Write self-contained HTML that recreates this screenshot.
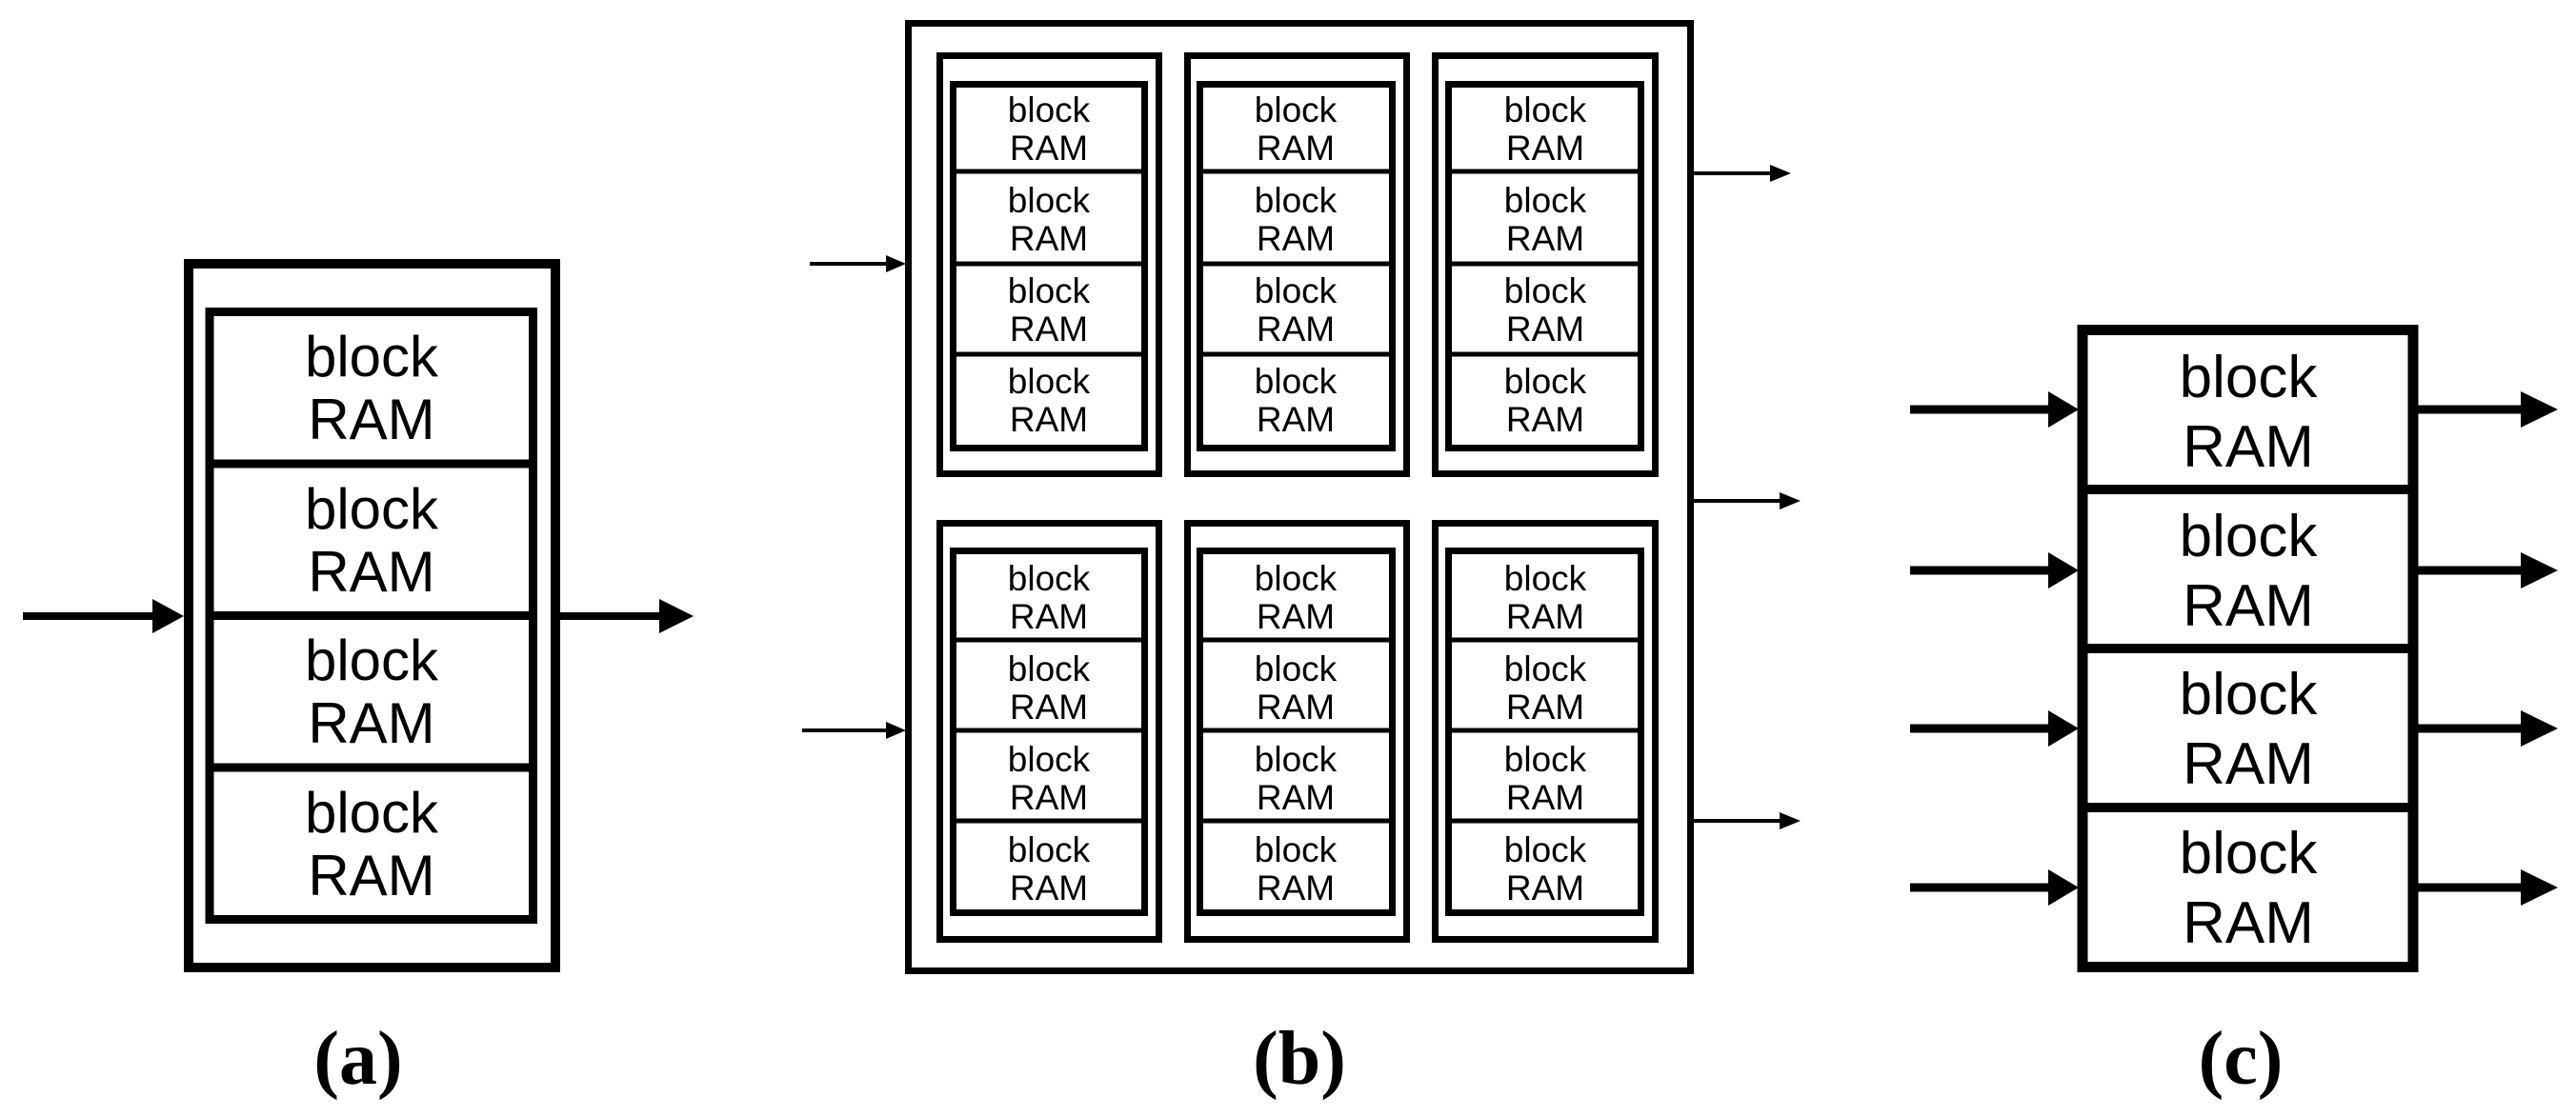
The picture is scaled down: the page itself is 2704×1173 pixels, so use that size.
<!DOCTYPE html>
<html><head><meta charset="utf-8"><style>
html,body{margin:0;padding:0;background:#fff;}
svg{display:block;}
.t{font-family:"Liberation Sans",sans-serif;text-anchor:middle;fill:#000;}
.l{font-family:"Liberation Serif",serif;font-weight:bold;text-anchor:middle;fill:#000;font-size:80px;}
</style></head><body>
<svg width="2704" height="1173" viewBox="0 0 2704 1173" xmlns="http://www.w3.org/2000/svg">
<rect width="2704" height="1173" fill="#fff"/>
<!-- (a) -->
<rect x="198" y="277" width="385" height="739" fill="none" stroke="#000" stroke-width="10"/>
<rect x="220" y="327.5" width="339.5" height="638" fill="none" stroke="#000" stroke-width="9"/>
<g stroke="#000" stroke-width="9">
<line x1="220" y1="487" x2="560" y2="487"/><line x1="220" y1="646.5" x2="560" y2="646.5"/><line x1="220" y1="806" x2="560" y2="806"/>
</g>
<g class="t" font-size="60">
<text x="390" y="395">block</text><text x="390" y="461">RAM</text>
<text x="390" y="555">block</text><text x="390" y="621">RAM</text>
<text x="390" y="714">block</text><text x="390" y="780">RAM</text>
<text x="390" y="874">block</text><text x="390" y="940">RAM</text>
</g>
<g stroke="#000" stroke-width="8"><line x1="24" y1="647" x2="166" y2="647"/><line x1="588" y1="647" x2="695" y2="647"/></g>
<polygon points="160,629 193,647 160,665" fill="#000"/>
<polygon points="692,629 728,647 692,665" fill="#000"/>
<text class="l" x="376" y="1138">(a)</text>

<!-- (b) -->
<rect x="953.5" y="24.5" width="821" height="995" fill="none" stroke="#000" stroke-width="7"/>
<g fill="none" stroke="#000" stroke-width="7">
<rect x="986.5" y="58.5" width="230" height="439"/>
<rect x="1246.5" y="58.5" width="230" height="439"/>
<rect x="1506.5" y="58.5" width="231" height="439"/>
<rect x="986.5" y="549.5" width="230" height="437"/>
<rect x="1246.5" y="549.5" width="230" height="437"/>
<rect x="1506.5" y="549.5" width="231" height="437"/>
<rect x="1000.5" y="88.5" width="201" height="382"/>
<rect x="1259.5" y="88.5" width="202" height="382"/>
<rect x="1520.5" y="88.5" width="202" height="382"/>
<rect x="1000.5" y="578.5" width="201" height="380"/>
<rect x="1259.5" y="578.5" width="202" height="380"/>
<rect x="1520.5" y="578.5" width="202" height="380"/>
</g>
<g stroke="#000" stroke-width="5">
<path d="M1000 180H1202M1000 277H1202M1000 372H1202M1259 180H1462M1259 277H1462M1259 372H1462M1520 180H1723M1520 277H1723M1520 372H1723"/>
<path d="M1000 672H1202M1000 767H1202M1000 862H1202M1259 672H1462M1259 767H1462M1259 862H1462M1520 672H1723M1520 767H1723M1520 862H1723"/>
</g>
<g class="t" font-size="37">
<g id="col">
<text x="1101" y="128">block</text><text x="1101" y="168">RAM</text>
<text x="1101" y="223">block</text><text x="1101" y="263">RAM</text>
<text x="1101" y="318">block</text><text x="1101" y="358">RAM</text>
<text x="1101" y="413">block</text><text x="1101" y="453">RAM</text>
<text x="1101" y="620">block</text><text x="1101" y="660">RAM</text>
<text x="1101" y="715">block</text><text x="1101" y="755">RAM</text>
<text x="1101" y="810">block</text><text x="1101" y="850">RAM</text>
<text x="1101" y="905">block</text><text x="1101" y="945">RAM</text>
</g>
<use href="#col" x="259"/>
<use href="#col" x="521"/>
</g>
<g stroke="#000" stroke-width="4">
<line x1="850" y1="277" x2="935" y2="277"/><line x1="842" y1="767" x2="935" y2="767"/>
<line x1="1778" y1="182" x2="1862" y2="182"/><line x1="1778" y1="526" x2="1872" y2="526"/><line x1="1778" y1="862" x2="1872" y2="862"/>
</g>
<g fill="#000">
<polygon points="930,268 951,277 930,286"/><polygon points="930,758 951,767 930,776"/>
<polygon points="1858,173 1880,182 1858,191"/><polygon points="1868,517 1890,526 1868,535"/><polygon points="1868,853 1890,862 1868,871"/>
</g>
<text class="l" x="1364" y="1138">(b)</text>

<!-- (c) -->
<rect x="2186" y="346.5" width="347" height="669" fill="none" stroke="#000" stroke-width="11"/>
<g stroke="#000" stroke-width="10">
<line x1="2186" y1="514" x2="2533" y2="514"/><line x1="2186" y1="681" x2="2533" y2="681"/><line x1="2186" y1="848" x2="2533" y2="848"/>
</g>
<g class="t" font-size="62">
<text x="2360" y="417">block</text><text x="2360" y="490">RAM</text>
<text x="2360" y="584">block</text><text x="2360" y="657">RAM</text>
<text x="2360" y="750">block</text><text x="2360" y="823">RAM</text>
<text x="2360" y="917">block</text><text x="2360" y="990">RAM</text>
</g>
<g stroke="#000" stroke-width="9">
<path d="M2005 430H2155M2005 599H2155M2005 765H2155M2005 932H2155"/>
<path d="M2538 430H2650M2538 599H2650M2538 765H2650M2538 932H2650"/>
</g>
<g fill="#000">
<polygon points="2150,411 2182,430 2150,449"/><polygon points="2150,580 2182,599 2150,618"/><polygon points="2150,746 2182,765 2150,784"/><polygon points="2150,913 2182,932 2150,951"/>
<polygon points="2646,411 2685,430 2646,449"/><polygon points="2646,580 2685,599 2646,618"/><polygon points="2646,746 2685,765 2646,784"/><polygon points="2646,913 2685,932 2646,951"/>
</g>
<text class="l" x="2352" y="1138">(c)</text>
</svg>
</body></html>
